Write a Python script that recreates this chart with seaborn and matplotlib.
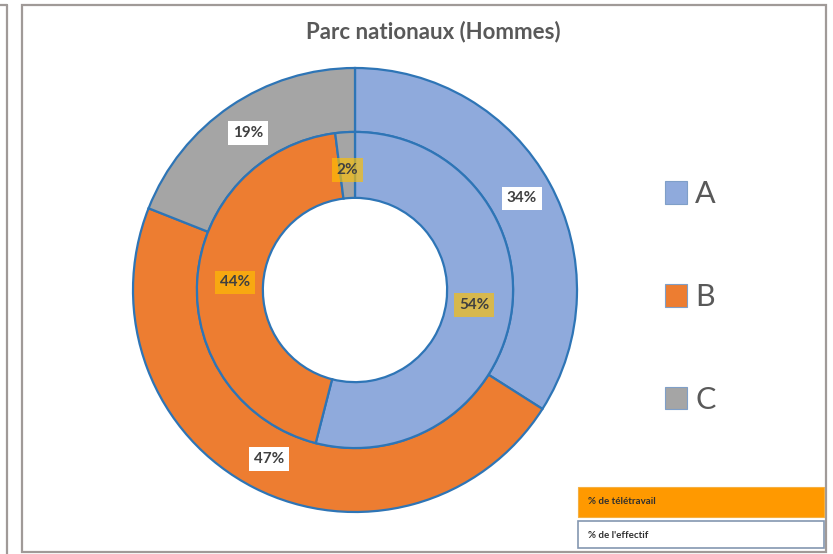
import matplotlib
matplotlib.use('Agg')
import matplotlib.pyplot as plt
import seaborn as sns
from matplotlib.patches import Patch, Rectangle

categories = ['A', 'B', 'C']
effectif = [34, 47, 19]      # outer ring, % de l'effectif
teletravail = [54, 44, 2]    # inner ring, % de télétravail
legend_notes = ['% de télétravail', "% de l'effectif"]

sns.set_style('white')
plt.rcParams['font.family'] = ['Lato', 'DejaVu Sans']

colors = ['#8FAADC', '#ED7D31', '#A5A5A5']
edge = '#2E75B6'
txt = '#404040'

fig = plt.figure(figsize=(8.33, 5.54), dpi=100)
ax = fig.add_axes([133 / 833, 42 / 554, 444 / 833, 444 / 554])

# outer ring
w_out, t_out, a_out = ax.pie(effectif, radius=1.0, colors=colors, startangle=90, counterclock=False,
                             autopct='%d%%', pctdistance=0.856,
                             wedgeprops=dict(width=0.288, edgecolor=edge, linewidth=1.6))
for t in a_out:
    t.set_fontsize(11)
    t.set_fontweight('bold')
    t.set_color(txt)
    t.set_bbox(dict(facecolor='white', edgecolor='none', pad=3.5))

# inner ring
w_in, t_in, a_in = ax.pie(teletravail, radius=0.712, colors=colors, startangle=90, counterclock=False,
                          autopct='%d%%', pctdistance=0.76,
                          wedgeprops=dict(width=0.297, edgecolor=edge, linewidth=1.6))
for t in a_in:
    t.set_fontsize(11)
    t.set_fontweight('bold')
    t.set_color(txt)
    t.set_bbox(dict(facecolor='#FFC000', alpha=0.65, edgecolor='none', pad=3.5))

ax.set_xlim(-1, 1)
ax.set_ylim(-1, 1)
ax.set_aspect('equal')

fig.text(433 / 833, 1 - 32 / 554, 'Parc nationaux (Hommes)', ha='center', va='center',
         fontsize=16, fontweight='bold', color='#595959')

handles = [Patch(facecolor=c, edgecolor='#7F9FC8', linewidth=0.8) for c in colors]
fig.legend(handles, categories, loc='center left', bbox_to_anchor=(637 / 833, 1 - 297 / 554),
           frameon=False, fontsize=22, labelspacing=2.45, handlelength=0.75, handleheight=0.75,
           handletextpad=0.25, labelcolor='#595959')

# frame of the chart area and neighbouring panel edge
fig.patches.append(Rectangle((22 / 833, 2 / 554), 804 / 833, 547 / 554, transform=fig.transFigure,
                             facecolor='none', edgecolor='#A09A98', linewidth=1.6))
fig.add_artist(plt.Line2D([7 / 833, 7 / 833], [0, 1 - 5 / 554], transform=fig.transFigure,
                          color='#A09A98', linewidth=1.6))
fig.add_artist(plt.Line2D([0, 7 / 833], [1 - 5 / 554, 1 - 5 / 554], transform=fig.transFigure,
                          color='#A09A98', linewidth=1.6))

# notes boxes bottom right
fig.patches.append(Rectangle((578 / 833, 1 - 517 / 554), 246 / 833, 30 / 554, transform=fig.transFigure,
                             facecolor='#FF9900', edgecolor='#F5B041', linewidth=0.8))
fig.patches.append(Rectangle((578 / 833, 1 - 548 / 554), 246 / 833, 27 / 554, transform=fig.transFigure,
                             facecolor='white', edgecolor='#8497B0', linewidth=1.2))
fig.text(588 / 833, 1 - 502 / 554, legend_notes[0], fontsize=7, fontweight='bold', color='#303030', va='center')
fig.text(588 / 833, 1 - 535 / 554, legend_notes[1], fontsize=7, fontweight='bold', color='#303030', va='center')

fig.savefig('out.png', dpi=100)
